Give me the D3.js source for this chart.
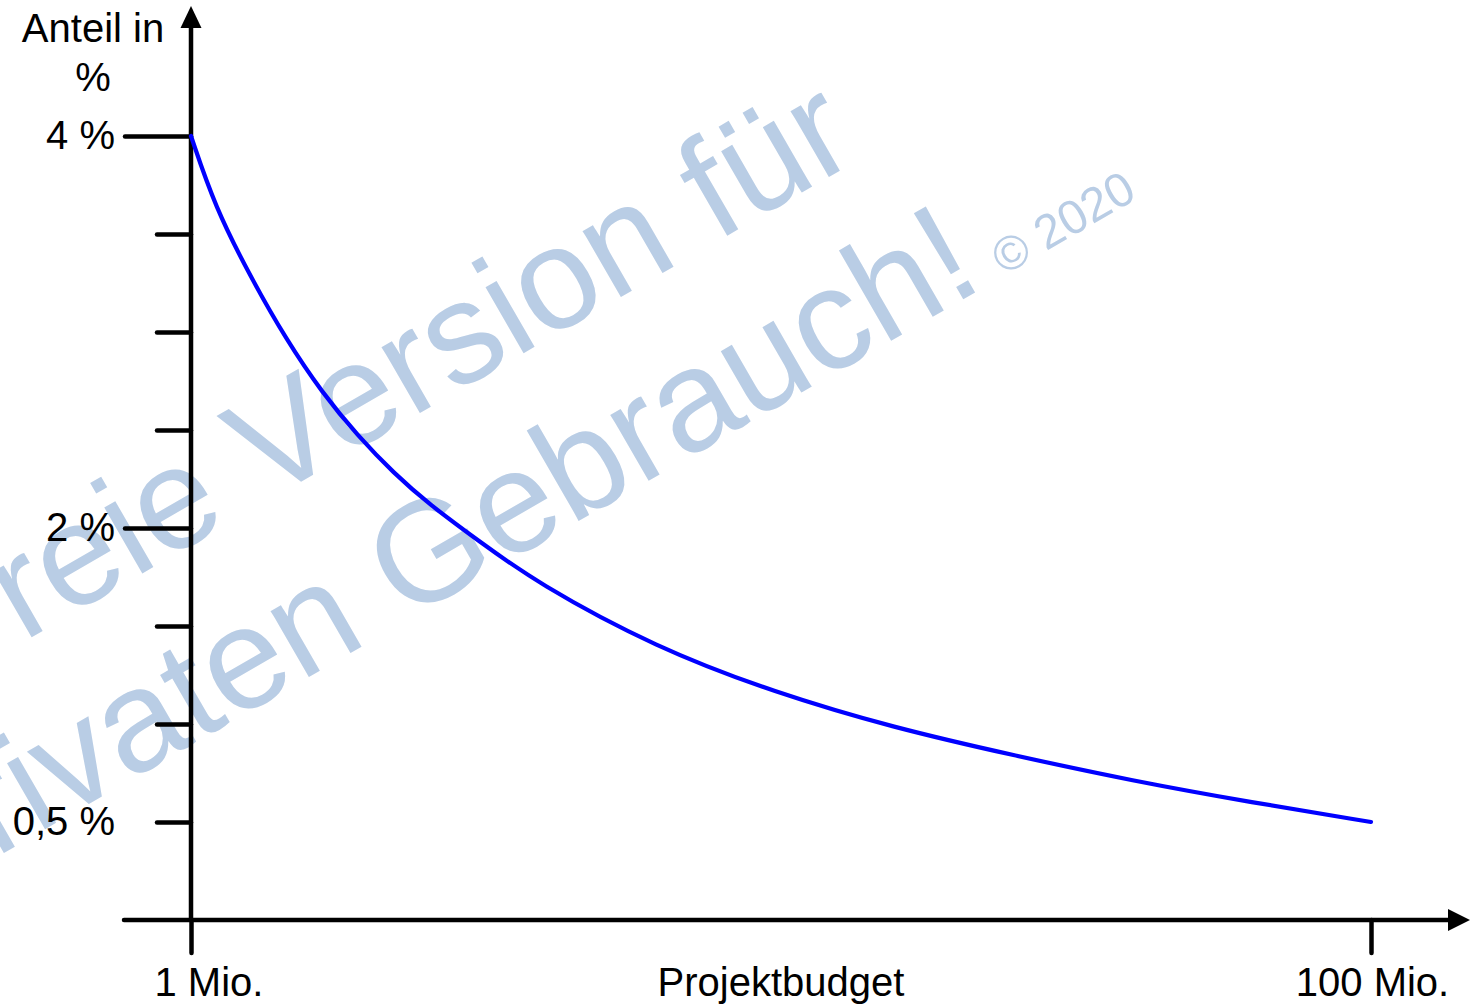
<!DOCTYPE html>
<html>
<head>
<meta charset="utf-8">
<script src="https://cdn.jsdelivr.net/npm/d3@7"></script>
<style>
  html, body { margin: 0; padding: 0; background: #fff; }
  svg { display: block; font-family: Arial, "Liberation Sans", Helvetica, sans-serif; }
</style>
</head>
<body>
<svg id="chart" width="1471" height="1004"></svg>
<script>
// Project budget in Mio. (x) and share in % (y) along the curve
const budgetMio = [1, 3, 6, 9, 12, 15, 18, 21, 25, 30, 40, 50, 60, 70, 80, 90, 100];
const sharePct  = [4.00, 3.64, 3.28, 2.96, 2.69, 2.47, 2.28, 2.12, 1.94, 1.72, 1.39, 1.16, 0.98, 0.84, 0.71, 0.60, 0.50];

// Axis ticks and their labels
const yTickValues = [4, 3.5, 3, 2.5, 2, 1.5, 1, 0.5];
const yTickLabels = { 4: "4 %", 2: "2 %", 0.5: "0,5 %" };
const yMajorTicks = [4, 2];
const xTickValues = [1, 100];
const xTickLabels = { 1: "1 Mio.", 100: "100 Mio." };

const yTitle = ["Anteil in", "%"];
const xTitle = "Projektbudget";
const watermarkLines = ["Freie Version für", "privaten Gebrauch!"];
const watermarkYear = "© 2020";

const svg = d3.select("#chart");

const x = d3.scaleLinear().domain([1, 100]).range([191, 1371]);
const y = d3.scaleLinear().domain([0, 4]).range([920, 136]);

const ink = "#000";
const axisWidth = 4.5;
const labelSize = 40;

// Watermark, behind everything else
const wm = svg.append("g")
  .attr("transform", "translate(404,622) rotate(-30)")
  .attr("fill", "#b9cde5")
  .attr("font-size", 144);
wm.append("text").attr("x", -428).attr("y", -173).text(watermarkLines[0]);
const wm2 = wm.append("text").attr("x", -552).attr("y", 0);
wm2.append("tspan").text(watermarkLines[1]);
wm2.append("tspan").attr("font-size", 48).attr("dx", 20).text(watermarkYear);

// Y axis: ticks via d3.axisLeft, long ticks at labelled values
const yAxis = d3.axisLeft(y)
  .tickValues(yTickValues)
  .tickSize(34)
  .tickPadding(0)
  .tickFormat(v => yTickLabels[v] || "");

const gy = svg.append("g")
  .attr("transform", `translate(${x(1)},0)`)
  .call(yAxis);
gy.select(".domain").remove();
gy.selectAll(".tick line")
  .attr("stroke", ink)
  .attr("stroke-width", axisWidth)
  .attr("stroke-linecap", "round")
  .attr("x2", d => yMajorTicks.includes(d) ? -66 : -34);
gy.selectAll(".tick text")
  .attr("x", -76)
  .attr("dy", null)
  .attr("y", 12)
  .attr("fill", ink)
  .attr("font-size", labelSize)
  .attr("font-family", null);

// X axis: ticks via d3.axisBottom
const xAxis = d3.axisBottom(x)
  .tickValues(xTickValues)
  .tickSize(33)
  .tickFormat(v => xTickLabels[v]);

const gx = svg.append("g")
  .attr("transform", `translate(0,${y(0)})`)
  .call(xAxis);
gx.select(".domain").remove();
gx.selectAll(".tick line")
  .attr("stroke", ink)
  .attr("stroke-width", axisWidth)
  .attr("stroke-linecap", "round");
gx.selectAll(".tick text")
  .attr("y", 76)
  .attr("dy", null)
  .attr("fill", ink)
  .attr("font-size", labelSize)
  .attr("font-family", null)
  .attr("text-anchor", d => d === 1 ? "start" : "middle")
  .attr("x", d => d === 1 ? -37 : 1);

// Axis lines with arrow heads
svg.append("line")
  .attr("x1", x(1)).attr("x2", x(1))
  .attr("y1", y(0)).attr("y2", 24)
  .attr("stroke", ink).attr("stroke-width", axisWidth);
svg.append("path")
  .attr("d", `M${x(1)},6 L${x(1) - 10.5},28 L${x(1) + 10.5},28 Z`)
  .attr("fill", ink);

svg.append("line")
  .attr("x1", 124).attr("x2", 1452)
  .attr("y1", y(0)).attr("y2", y(0))
  .attr("stroke", ink).attr("stroke-width", axisWidth)
  .attr("stroke-linecap", "round");
svg.append("path")
  .attr("d", `M1470,${y(0)} L1448,${y(0) - 11} L1448,${y(0) + 11} Z`)
  .attr("fill", ink);

// Axis titles
const yt = svg.append("text")
  .attr("text-anchor", "middle")
  .attr("font-size", labelSize)
  .attr("fill", ink);
yt.append("tspan").attr("x", 93).attr("y", 42).text(yTitle[0]);
yt.append("tspan").attr("x", 93).attr("y", 91).text(yTitle[1]);

svg.append("text")
  .attr("x", (x(1) + x(100)) / 2)
  .attr("y", 996)
  .attr("text-anchor", "middle")
  .attr("font-size", labelSize)
  .attr("fill", ink)
  .text(xTitle);

// Curve
const points = budgetMio.map((b, i) => [b, sharePct[i]]);
svg.append("path")
  .datum(points)
  .attr("fill", "none")
  .attr("stroke", "#0000ff")
  .attr("stroke-width", 4.2)
  .attr("stroke-linecap", "round")
  .attr("d", d3.line()
    .x(d => x(d[0]))
    .y(d => y(d[1]))
    .curve(d3.curveBasis));
</script>
</body>
</html>
